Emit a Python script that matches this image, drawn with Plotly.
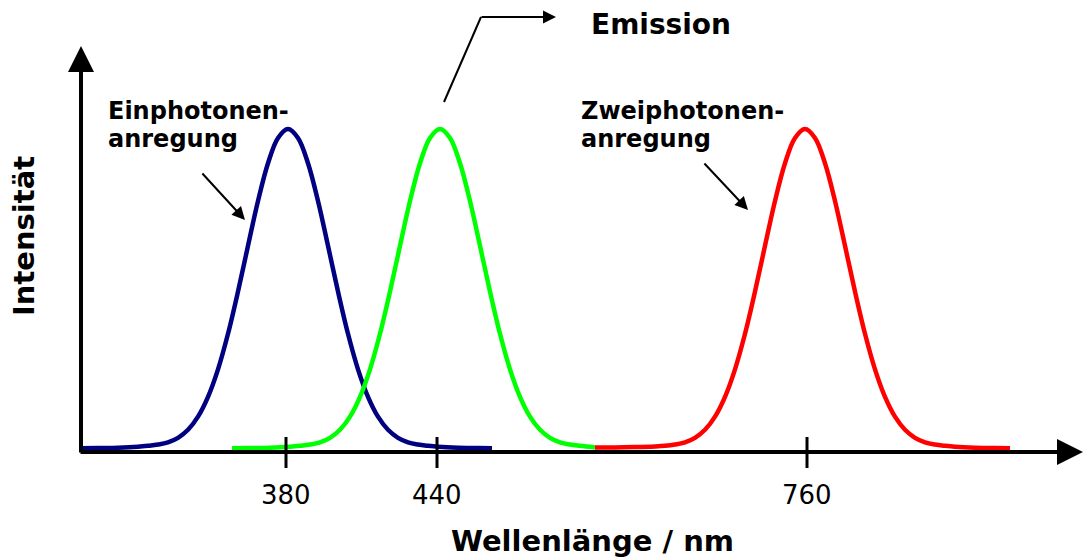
import plotly.graph_objects as go

# ---------------- data ----------------
# x: schematic position along the wavelength axis, y: relative intensity (0..1)
tick_pos = [286, 437, 807]
tick_labels = ["380", "440", "760"]

blue_x = [80, 98, 118, 138, 148, 158, 168, 178, 188, 198, 208, 218, 228, 238, 248, 258, 268, 278, 288,
          298, 308, 318, 328, 338, 348, 358, 368, 378, 388, 398, 408, 418, 428, 438, 458, 478, 492]
blue_y = [0.002, 0.003, 0.004, 0.007, 0.010, 0.014, 0.021, 0.035, 0.060, 0.101, 0.163, 0.249, 0.360, 0.492,
          0.635, 0.775, 0.893, 0.972, 1.0,
          0.972, 0.893, 0.775, 0.635, 0.492, 0.360, 0.249, 0.163, 0.101, 0.060, 0.035, 0.021, 0.014, 0.010,
          0.007, 0.004, 0.003, 0.002]

green_x = [232, 250, 270, 290, 300, 310, 320, 330, 340, 350, 360, 370, 380, 390, 400, 410, 420, 430, 440,
           450, 460, 470, 480, 490, 500, 510, 520, 530, 540, 550, 560, 570, 580, 595]
green_y = [0.002, 0.003, 0.004, 0.007, 0.010, 0.014, 0.021, 0.035, 0.060, 0.101, 0.163, 0.249, 0.360, 0.492,
           0.635, 0.775, 0.893, 0.972, 1.0,
           0.972, 0.893, 0.775, 0.635, 0.492, 0.360, 0.249, 0.163, 0.101, 0.060, 0.035, 0.021, 0.014, 0.010,
           0.005]

red_x = [595, 615, 635, 655, 665, 675, 685, 695, 705, 715, 725, 735, 745, 755, 765, 775, 785, 795, 805,
         815, 825, 835, 845, 855, 865, 875, 885, 895, 905, 915, 925, 935, 945, 955, 975, 995, 1010]
red_y = [0.005, 0.005, 0.006, 0.008, 0.010, 0.014, 0.021, 0.035, 0.060, 0.101, 0.163, 0.249, 0.360, 0.492,
         0.635, 0.775, 0.893, 0.972, 1.0,
         0.972, 0.893, 0.775, 0.635, 0.492, 0.360, 0.249, 0.163, 0.101, 0.060, 0.035, 0.021, 0.014, 0.010,
         0.007, 0.004, 0.003, 0.002]

# ---------------- layout helpers ----------------
W, H = 1084, 559
BASE_PX, PEAK_PX = 449, 129
SCALE = BASE_PX - PEAK_PX


def yd(p):
    """convert a vertical pixel position to the intensity scale"""
    return (BASE_PX - p) / SCALE


FONT = "DejaVu Sans"
LW = 4.5

fig = go.Figure()
fig.add_trace(go.Scatter(x=blue_x, y=blue_y, mode="lines",
                         line=dict(color="#000080", width=LW, shape="spline", smoothing=1.0),
                         name="Einphotonenanregung"))
fig.add_trace(go.Scatter(x=green_x, y=green_y, mode="lines",
                         line=dict(color="#00FF00", width=LW, shape="spline", smoothing=1.0),
                         name="Emission"))
fig.add_trace(go.Scatter(x=red_x, y=red_y, mode="lines",
                         line=dict(color="#FF0000", width=LW, shape="spline", smoothing=1.0),
                         name="Zweiphotonenanregung"))

# axes with arrows
axis_y = yd(452)
fig.add_annotation(x=1083, y=axis_y, ax=79, ay=axis_y, xref="x", yref="y", axref="x", ayref="y",
                   text="", showarrow=True, arrowhead=2, arrowwidth=4, arrowsize=1.3, arrowcolor="black")
fig.add_annotation(x=81, y=yd(46), ax=81, ay=axis_y - 0.006, xref="x", yref="y", axref="x", ayref="y",
                   text="", showarrow=True, arrowhead=2, arrowwidth=4, arrowsize=1.3, arrowcolor="black")

# ticks and tick labels
for tp, tl in zip(tick_pos, tick_labels):
    fig.add_shape(type="line", x0=tp, x1=tp, y0=yd(437), y1=yd(468), xref="x", yref="y",
                  line=dict(color="black", width=3))
    fig.add_annotation(x=tp, y=yd(495), xref="x", yref="y", text=tl, showarrow=False,
                       font=dict(family=FONT, size=26, color="black"), yanchor="middle")

# axis titles
fig.add_annotation(x=592, y=yd(541), xref="x", yref="y", text="Wellenlänge / nm", showarrow=False,
                   font=dict(family=FONT, size=29, color="black", weight="bold"), yanchor="middle")
fig.add_annotation(x=24, y=yd(236), xref="x", yref="y", text="Intensität", showarrow=False, textangle=-90,
                   font=dict(family=FONT, size=29, color="black", weight="bold"))

# labels
lab_font = dict(family=FONT, size=24, color="black", weight="bold")
fig.add_annotation(x=106, y=yd(111), xref="x", yref="y", text="Einphotonen-", showarrow=False,
                   xanchor="left", yanchor="middle", font=lab_font)
fig.add_annotation(x=106, y=yd(139), xref="x", yref="y", text="anregung", showarrow=False,
                   xanchor="left", yanchor="middle", font=lab_font)
fig.add_annotation(x=579, y=yd(111), xref="x", yref="y", text="Zweiphotonen-", showarrow=False,
                   xanchor="left", yanchor="middle", font=lab_font)
fig.add_annotation(x=579, y=yd(139), xref="x", yref="y", text="anregung", showarrow=False,
                   xanchor="left", yanchor="middle", font=lab_font)
fig.add_annotation(x=661, y=yd(24), xref="x", yref="y", text="Emission", showarrow=False,
                   yanchor="middle", font=dict(family=FONT, size=28, color="black", weight="bold"))

# label pointers
fig.add_annotation(x=245, y=yd(220), ax=201, ay=yd(172), xref="x", yref="y", axref="x", ayref="y",
                   text="", showarrow=True, arrowhead=2, arrowwidth=2, arrowsize=1.3, arrowcolor="black")
fig.add_annotation(x=748, y=yd(210), ax=703, ay=yd(162), xref="x", yref="y", axref="x", ayref="y",
                   text="", showarrow=True, arrowhead=2, arrowwidth=2, arrowsize=1.3, arrowcolor="black")
fig.add_shape(type="line", x0=444, y0=yd(102), x1=481, y1=yd(17), xref="x", yref="y",
              line=dict(color="black", width=2))
fig.add_annotation(x=556, y=yd(17), ax=480, ay=yd(17), xref="x", yref="y", axref="x", ayref="y",
                   text="", showarrow=True, arrowhead=2, arrowwidth=2, arrowsize=1.3, arrowcolor="black")

fig.update_xaxes(range=[0, W], visible=False, fixedrange=True)
fig.update_yaxes(range=[yd(H), yd(0)], visible=False, fixedrange=True)
fig.update_layout(width=W, height=H, margin=dict(l=0, r=0, t=0, b=0), showlegend=False,
                  plot_bgcolor="white", paper_bgcolor="white")

fig.write_html("out.html")
